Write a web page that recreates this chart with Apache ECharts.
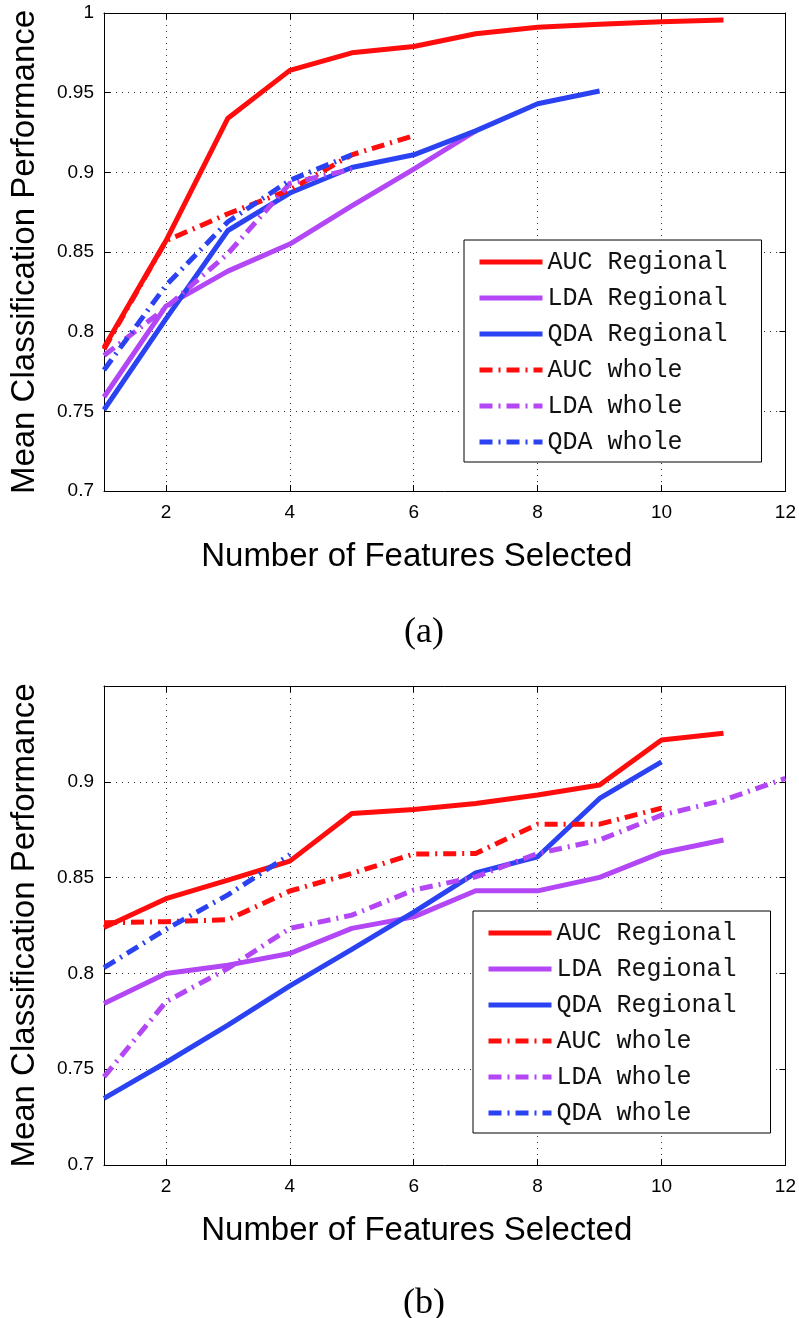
<!DOCTYPE html>
<html>
<head>
<meta charset="utf-8">
<script src="https://cdn.jsdelivr.net/npm/echarts@6/dist/echarts.min.js"></script>
<style>html,body{margin:0;padding:0;background:#fff}#c{width:799px;height:1318px}</style>
</head>
<body>
<div id="c"></div>
<script>
// Number of features (x positions)
const features = [1,2,3,4,5,6,7,8,9,10,11,12];
const xTicks = [2,4,6,8,10,12];

// Panel (a)
const aAucRegional = [0.790,0.857,0.934,0.964,0.975,0.979,0.987,0.991,0.993,0.9945,0.9956];
const aLdaRegional = [0.759,0.816,0.838,0.855,0.879,0.902,0.926];
const aQdaRegional = [0.751,0.808,0.8635,0.887,0.903,0.911,0.926,0.943,0.951];
const aAucWhole    = [0.789,0.857,0.874,0.889,0.911,0.923];
const aLdaWhole    = [0.785,0.815,0.849,0.893,0.902];
const aQdaWhole    = [0.776,0.829,0.869,0.895,0.911];

// Panel (b)
const bAucRegional = [0.824,0.839,0.8487,0.8586,0.8835,0.8856,0.8887,0.8931,0.8983,0.9218,0.9253];
const bLdaRegional = [0.7843,0.800,0.8043,0.8104,0.8235,0.8295,0.8431,0.8431,0.8501,0.8630,0.8696];
const bQdaRegional = [0.7348,0.7535,0.773,0.7935,0.8125,0.832,0.8525,0.8609,0.8913,0.9104];
const bAucWhole    = [0.8264,0.827,0.828,0.843,0.8522,0.8623,0.8626,0.8779,0.8779,0.8863];
const bLdaWhole    = [0.746,0.7852,0.8026,0.8235,0.8304,0.8435,0.8504,0.8626,0.8696,0.8826,0.8904,0.9018];
const bQdaWhole    = [0.803,0.823,0.841,0.862];

const names = ['AUC Regional','LDA Regional','QDA Regional','AUC whole','LDA whole','QDA whole'];
const colors = ['#ff0d0d','#b347f5','#2b42f2','#ff0d0d','#b347f5','#2b42f2'];
const dashDot = [13,6,2,6];

function pairs(arr){ return arr.map((v,i)=>[features[i], v]); }

const chart = echarts.init(document.getElementById('c'), null, {renderer:'canvas'});
const sans = 'Liberation Sans, Arial, Helvetica, sans-serif';

function xAxes(gi){
  return [
    {gridIndex:gi, type:'value', min:1, max:12, position:'bottom',
     axisLine:{show:true, onZero:false, lineStyle:{color:'#000', width:1}},
     axisTick:{show:true, inside:true, length:6, customValues:xTicks, lineStyle:{color:'#000'}},
     axisLabel:{show:true, customValues:xTicks, color:'#000', fontFamily:sans, fontSize:19, margin:12},
     splitLine:{show:true, lineStyle:{color:'#333', width:1, type:[1,5]}},
     name:'Number of Features Selected', nameLocation:'middle', nameGap:49,
     nameTextStyle:{color:'#000', fontFamily:sans, fontSize:33, padding:[0,56,0,0]}},
    {gridIndex:gi, type:'value', min:1, max:12, position:'top',
     axisLine:{show:true, onZero:false, lineStyle:{color:'#000', width:1}},
     axisTick:{show:true, inside:true, length:6, customValues:xTicks, lineStyle:{color:'#000'}},
     axisLabel:{show:false}, splitLine:{show:false}}
  ];
}
function yAxes(gi, max, showMax){
  return [
    {gridIndex:gi, type:'value', min:0.7, max:max, interval:0.05, position:'left',
     axisLine:{show:true, onZero:false, lineStyle:{color:'#000', width:1}},
     axisTick:{show:true, inside:true, length:6, lineStyle:{color:'#000'}},
     axisLabel:{color:'#000', fontFamily:sans, fontSize:19, margin:10, showMaxLabel:showMax,
       formatter:v=>String(+v.toFixed(2))},
     splitLine:{show:true, lineStyle:{color:'#333', width:1, type:[1,5]}},
     name:'Mean Classification Performance', nameLocation:'middle', nameGap:63, nameRotate:90,
     nameTextStyle:{color:'#000', fontFamily:sans, fontSize:33}},
    {gridIndex:gi, type:'value', min:0.7, max:max, interval:0.05, position:'right',
     axisLine:{show:true, onZero:false, lineStyle:{color:'#000', width:1}},
     axisTick:{show:true, inside:true, length:6, lineStyle:{color:'#000'}},
     axisLabel:{show:false}, splitLine:{show:false}}
  ];
}

function mkSeries(gi, datasets){
  return datasets.map((d,i)=>({
    name:names[i], type:'line', xAxisIndex:gi*2, yAxisIndex:gi*2,
    data:pairs(d), symbol:'none', silent:true, animation:false,
    lineStyle:{color:colors[i], width:5, type: i<3 ? 'solid' : dashDot, cap:'butt', join:'round'},
    itemStyle:{color:colors[i]}
  }));
}

const legendCommon = {
  orient:'vertical', data:names, itemWidth:63, itemHeight:14, itemGap:10,
  backgroundColor:'#fff', borderColor:'#000', borderWidth:1, borderRadius:0,
  padding:[9,34,7,13], selectedMode:false,
  itemStyle:{opacity:0},
  lineStyle:{width:5, opacity:1},
  textStyle:{fontFamily:'Liberation Mono, Courier New, monospace', fontSize:25, color:'#111', lineHeight:26, padding:[0,0,0,0]}
};

chart.setOption({
  animation:false,
  backgroundColor:'#fff',
  grid:[
    {left:102, right:12, top:13, height:478},
    {left:102, right:12, top:686, height:479}
  ],
  xAxis:[...xAxes(0), ...xAxes(1)],
  yAxis:[...yAxes(0, 1, true), ...yAxes(1, 0.95, false)],
  legend:[
    Object.assign({left:464, top:240}, legendCommon),
    Object.assign({left:473, top:911}, legendCommon)
  ],
  title:[
    {text:'(a)', left:419, top:628, textAlign:'center', textVerticalAlign:'middle',
     textStyle:{fontFamily:'Liberation Serif, Times New Roman, serif', fontSize:36, fontWeight:'normal', color:'#000'}},
    {text:'(b)', left:419, top:1299, textAlign:'center', textVerticalAlign:'middle',
     textStyle:{fontFamily:'Liberation Serif, Times New Roman, serif', fontSize:36, fontWeight:'normal', color:'#000'}}
  ],
  series:[
    ...mkSeries(0, [aAucRegional,aLdaRegional,aQdaRegional,aAucWhole,aLdaWhole,aQdaWhole]),
    ...mkSeries(1, [bAucRegional,bLdaRegional,bQdaRegional,bAucWhole,bLdaWhole,bQdaWhole])
  ]
});
</script>
</body>
</html>
